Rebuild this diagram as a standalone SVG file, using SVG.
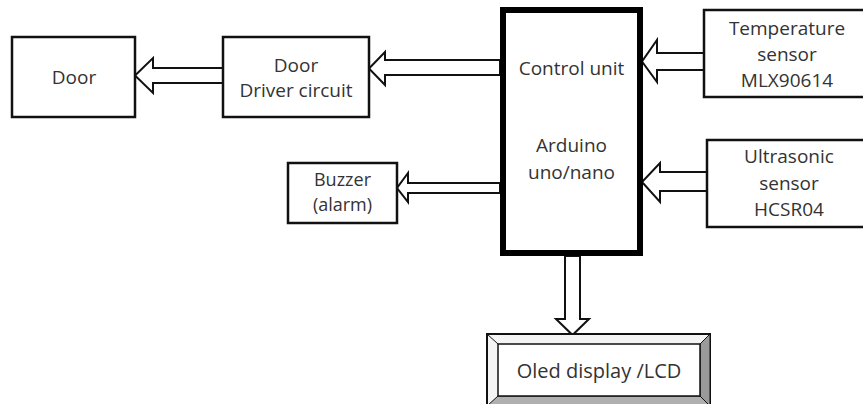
<svg xmlns="http://www.w3.org/2000/svg" width="863" height="404" viewBox="0 0 863 404">
<style>
.box{fill:#fff;stroke:#111;stroke-width:2.5}
.arr{fill:#fff;stroke:#111;stroke-width:2;stroke-linejoin:miter}
.t{font-family:"Open Sans","Noto Sans",sans-serif;font-size:19px;fill:#333;text-anchor:middle}
</style>
<rect width="863" height="404" fill="#fff"/>
<g id="connectors">
<polygon class="arr" points="223,68 153,68 153,58 135,75.5 153,93 153,83 223,83"/>
<polygon class="arr" points="500,60 385,60 385,52 369,68.5 385,85 385,75 500,75"/>
<polygon class="arr" points="500,183 408,183 408,173 397,188 408,202 408,193 500,193"/>
<polygon class="arr" points="704,53 657,53 657,40 642,61.5 657,82 657,70 704,70"/>
<polygon class="arr" points="707,172 660,172 660,163 642,182 660,202 660,191 707,191"/>
<polygon class="arr" points="565,256 565,319 556,319 572.5,335 589,319 580,319 580,256"/>
</g>
<g id="door">
<rect class="box" x="12" y="37" width="123" height="80"/>
<text class="t" x="74" y="84">Door</text>
</g>
<g id="driver">
<rect class="box" x="223" y="37" width="146" height="80"/>
<text class="t" x="296" y="72">Door</text>
<text class="t" x="296" y="97">Driver circuit</text>
</g>
<g id="buzzer">
<rect class="box" x="288" y="163" width="109" height="60"/>
<text class="t" x="342.5" y="186" style="font-size:18px">Buzzer</text>
<text class="t" x="342.5" y="211" style="font-size:18px">(alarm)</text>
</g>
<g id="control">
<rect x="503" y="10" width="137" height="243" fill="#fff" stroke="#000" stroke-width="6"/>
<text class="t" x="571.5" y="75">Control unit</text>
<text class="t" x="571.5" y="152">Arduino</text>
<text class="t" x="571.5" y="179">uno/nano</text>
</g>
<g id="temperature">
<rect class="box" x="704" y="10" width="170" height="87"/>
<text class="t" x="787" y="35">Temperature</text>
<text class="t" x="787" y="61">sensor</text>
<text class="t" x="787" y="87">MLX90614</text>
</g>
<g id="ultrasonic">
<rect class="box" x="707" y="140" width="170" height="87"/>
<text class="t" x="789" y="163">Ultrasonic</text>
<text class="t" x="789" y="190">sensor</text>
<text class="t" x="789" y="216">HCSR04</text>
</g>
<g id="display">
<rect x="487" y="334" width="223" height="72" fill="#f4f4f4" stroke="#111" stroke-width="2"/>
<polygon points="710,334 700,344 700,396 710,406" fill="#9a9a9a" stroke="#111" stroke-width="1"/>
<polygon points="487,406 498,396 700,396 710,406" fill="#b0b0b0" stroke="#111" stroke-width="1"/>
<line x1="487" y1="334" x2="498" y2="344" stroke="#111" stroke-width="1"/>
<rect x="498" y="344" width="202" height="52" fill="#fff" stroke="#111" stroke-width="1.5"/>
<text class="t" x="599" y="378" style="font-size:20px">Oled display /LCD</text>
</g>
</svg>
